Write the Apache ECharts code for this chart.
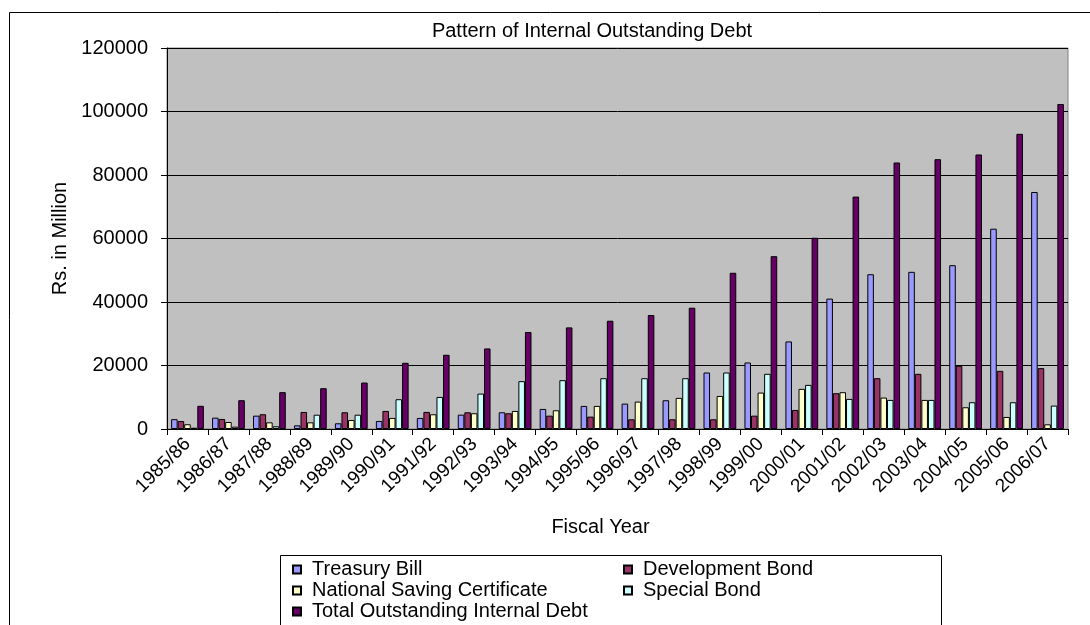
<!DOCTYPE html>
<html>
<head>
<meta charset="utf-8">
<script src="https://cdn.jsdelivr.net/npm/echarts@6/dist/echarts.min.js"></script>
<style>
  html, body { margin: 0; padding: 0; background: #ffffff; }
  #chart { width: 1090px; height: 625px; }
</style>
</head>
<body>
<div id="chart"></div>
<script>
// Fiscal years on the category axis
const fiscalYears = ['1985/86', '1986/87', '1987/88', '1988/89', '1989/90', '1990/91', '1991/92',
  '1992/93', '1993/94', '1994/95', '1995/96', '1996/97', '1997/98', '1998/99', '1999/00',
  '2000/01', '2001/02', '2002/03', '2003/04', '2004/05', '2005/06', '2006/07'];

// Outstanding amounts, Rs. in million
const treasuryBill = [3100, 3570, 4200, 1150, 1800, 2530, 3480, 4520, 5270, 6320, 7270, 8000,
  9060, 17800, 20950, 27580, 41070, 48750, 49500, 51590, 63090, 74650];
const developmentBond = [2500, 3160, 4650, 5370, 5270, 5690, 5370, 5270, 4960, 4200, 3900, 3060,
  3060, 3060, 4200, 6000, 11270, 16000, 17380, 19900, 18320, 19170];
const nationalSavingCertificate = [1500, 2200, 2100, 2100, 2840, 3480, 4640, 4960, 5690, 5900, 7270, 8630,
  9800, 10400, 11470, 12640, 11590, 9900, 9160, 6850, 3790, 1480];
const specialBond = [400, 730, 850, 4500, 4500, 9380, 10100, 11150, 15070, 15380, 16000, 16000,
  16000, 17800, 17380, 13900, 9480, 9160, 9160, 8430, 8430, 7370];
const totalInternalDebt = [7300, 9070, 11600, 12850, 14630, 20850, 23380, 25370, 30550, 32000, 34100, 35900,
  38200, 49200, 54430, 60240, 73200, 83940, 84980, 86460, 92970, 102360];

// Value axis ticks
const yMin = 0, yMax = 120000, yStep = 20000;

const FONT = 'Arial, "Liberation Sans", sans-serif';
const FS = 20;

function barSeries(name, data, color) {
  return {
    name: name,
    type: 'bar',
    data: data,
    barGap: '0%',
    barCategoryGap: '20%',
    itemStyle: { color: color, borderColor: '#000000', borderWidth: 1 },
    emphasis: { disabled: true }
  };
}

const legendCommon = {
  orient: 'vertical',
  icon: 'rect',
  itemWidth: 8,
  itemHeight: 8,
  itemGap: 0,
  padding: 0,
  selectedMode: false,
  textStyle: { fontFamily: FONT, fontSize: FS, color: '#000000', lineHeight: 21, padding: [0, 0, 0, 6] }
};

const chart = echarts.init(document.getElementById('chart'), null, { renderer: 'canvas' });
chart.setOption({
  animation: false,
  backgroundColor: '#ffffff',
  title: {
    text: 'Pattern of Internal Outstanding Debt',
    left: 592,
    top: 21,
    padding: 0,
    textAlign: 'center',
    textStyle: { fontFamily: FONT, fontSize: FS, fontWeight: 'normal', color: '#000000' }
  },
  graphic: [
    // chart frame
    { type: 'rect', silent: true, z: -1,
      shape: { x: 9.5, y: 12.5, width: 1200, height: 800 },
      style: { fill: 'none', stroke: '#000000', lineWidth: 1 } },
    // legend frame
    { type: 'rect', silent: true,
      shape: { x: 280.5, y: 555.5, width: 661, height: 100 },
      style: { fill: '#ffffff', stroke: '#000000', lineWidth: 1 } }
  ],
  legend: [
    Object.assign({}, legendCommon, {
      left: 292, top: 559,
      data: ['Treasury Bill', 'National Saving Certificate', 'Total Outstanding Internal Debt']
    }),
    Object.assign({}, legendCommon, {
      left: 623, top: 559,
      data: ['Development Bond', 'Special Bond']
    })
  ],
  grid: {
    left: 167, right: 22, top: 48, bottom: 196,
    show: true,
    backgroundColor: '#C0C0C0',
    borderColor: '#808080',
    borderWidth: 1
  },
  xAxis: {
    type: 'category',
    data: fiscalYears,
    name: 'Fiscal Year',
    nameLocation: 'middle',
    nameGap: 88,
    nameTextStyle: { fontFamily: FONT, fontSize: FS, color: '#000000', padding: [0, 34, 0, 0] },
    axisLine: { lineStyle: { color: '#000000', width: 1 } },
    axisTick: { show: true, length: 6, lineStyle: { color: '#000000' } },
    axisLabel: { rotate: 45, fontFamily: FONT, fontSize: 19, color: '#000000', margin: 12, interval: 0 }
  },
  yAxis: {
    type: 'value',
    min: yMin,
    max: yMax,
    interval: yStep,
    name: 'Rs. in Million',
    nameLocation: 'middle',
    nameRotate: 90,
    nameGap: 94,
    nameTextStyle: { fontFamily: FONT, fontSize: FS, color: '#000000' },
    axisLine: { show: true, lineStyle: { color: '#000000', width: 1 } },
    axisTick: { show: true, length: 6, lineStyle: { color: '#000000' } },
    axisLabel: { fontFamily: FONT, fontSize: FS, color: '#000000', margin: 19, formatter: v => String(v) },
    splitLine: { show: true, lineStyle: { color: '#000000', width: 1 } }
  },
  series: [
    barSeries('Treasury Bill', treasuryBill, '#9999FF'),
    barSeries('Development Bond', developmentBond, '#993366'),
    barSeries('National Saving Certificate', nationalSavingCertificate, '#FFFFCC'),
    barSeries('Special Bond', specialBond, '#CCFFFF'),
    barSeries('Total Outstanding Internal Debt', totalInternalDebt, '#660066')
  ]
});
</script>
</body>
</html>
